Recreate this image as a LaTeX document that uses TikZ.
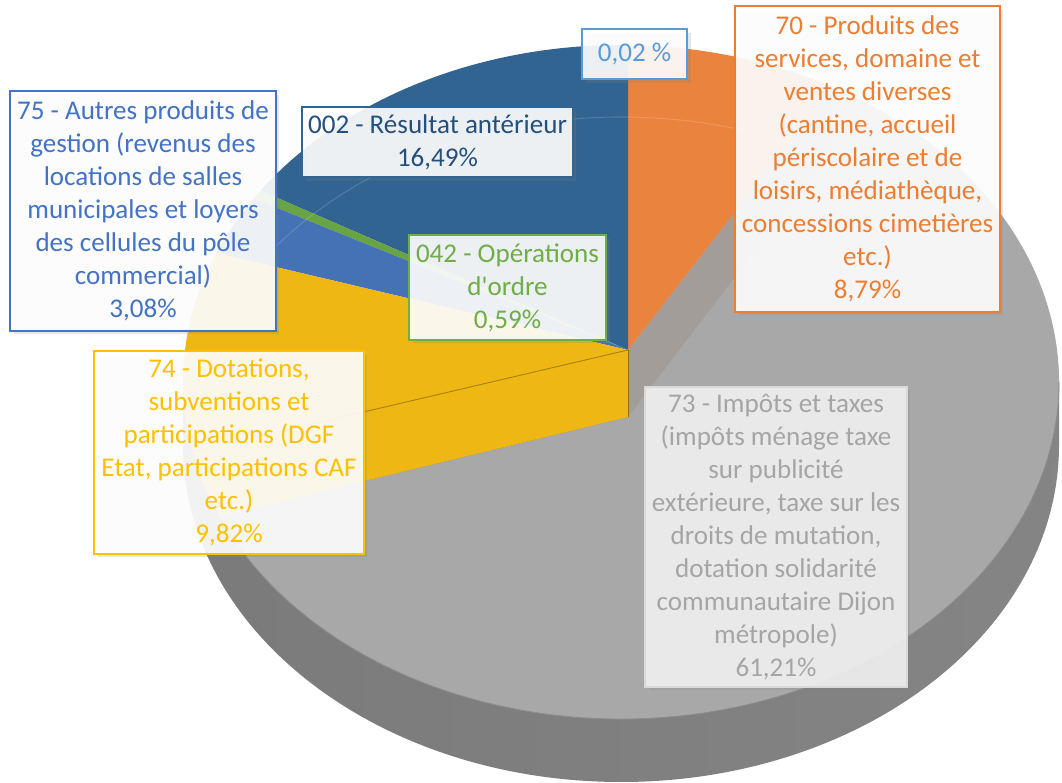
\documentclass[tikz,border=0pt]{standalone}
\usepackage{fontspec}
\setmainfont{Carlito}
\usepackage{tikz}
\usetikzlibrary{shadows}
\definecolor{cDark}{RGB}{50,100,146}
\definecolor{cDarkTxt}{RGB}{37,80,124}
\definecolor{cOrange}{RGB}{234,131,62}
\definecolor{cOrangeTxt}{RGB}{237,125,49}
\definecolor{cGray}{RGB}{168,168,168}
\definecolor{cGrayTxt}{RGB}{165,165,165}
\definecolor{cYellow}{RGB}{238,183,20}
\definecolor{cYellowTxt}{RGB}{255,192,0}
\definecolor{cBlue}{RGB}{68,114,180}
\definecolor{cBlueTxt}{RGB}{68,114,196}
\definecolor{cGreen}{RGB}{104,163,68}
\definecolor{cGreenTxt}{RGB}{112,173,71}
\definecolor{cLight}{RGB}{91,155,213}
\definecolor{cCut}{RGB}{162,157,152}

\begin{document}
\begin{tikzpicture}[x=0.02cm,y=0.02cm,
  lbl/.style={draw, line width=1.4pt, fill=white, fill opacity=0.9, text opacity=1,
    align=center, inner sep=0pt, font=\fontsize{15.4}{18.8}\selectfont,
    drop shadow={opacity=0.2,shadow xshift=2pt,shadow yshift=-2pt}},
  rim/.style={x radius=438, y radius=337}]
  \useasboundingbox (0,0) rectangle (1062,-783);
  \pgfmathsetmacro{\h}{63}
  \coordinate (apex) at (628,-350);
  \coordinate (apexlow) at (628,-417);
  \coordinate (ctop) at (621,-382);
  \foreach \nm/\t in {rimA/89.08,rimB/61.2,rimC/203.5,rimD/157.5,rimE/147,rimF/145.4,rimG/192}
    \path (ctop) ++(\t:438 and 337) coordinate (\nm);

  % side wall
  \shade[left color=black!52, middle color=black!33, right color=black!48]
    (ctop) ++(180:438 and 337) -- ++(0,-\h) arc[start angle=180, end angle=360, rim] -- ++(0,\h) -- cycle;

  % top faces
  \fill[cGray] (apex) -- (rimB) arc[start angle=61.2, end angle=-156.5, rim] -- (apexlow) -- cycle;
  \draw[black!45, line width=0.5pt] (rimC) arc[start angle=203.5, end angle=360, rim];
  \fill[cCut] (apex) -- (rimB) -- ++(0,-\h) -- (apexlow) -- cycle;
  \fill[cOrange] (apex) -- (rimB) arc[start angle=61.2, end angle=89.08, rim] -- cycle;
  \fill[cDark] (apex) -- (rimA) arc[start angle=89.08, end angle=145.4, rim] -- cycle;
  \fill[cGreen] (apex) -- (rimF) arc[start angle=145.4, end angle=147, rim] -- cycle;
  \fill[cBlue] (apex) -- (rimE) arc[start angle=147, end angle=157.5, rim] -- cycle;
  \fill[cYellow] (apex) -- (rimD) arc[start angle=157.5, end angle=203.5, rim] -- (apexlow) -- cycle;
  \draw[cYellow!70!black, line width=0.5pt] (apex) -- (rimG);
  \draw[cYellow!60!black, line width=0.5pt] (apex) -- (apexlow);
  \draw[white, opacity=0.15, line width=0.6pt] (621,-454) ++(143:438 and 337) arc[start angle=143, end angle=62, rim];

  % labels
  \node[lbl, draw=cLight, text=cLight, minimum width=2.1cm, minimum height=1cm] (labsmall) at (634.5,-54) {0,02 \%};
  \node[lbl, draw=cOrangeTxt, text=cOrangeTxt, minimum width=5.3cm, minimum height=6.12cm] (lab70) at (867.5,-159)
    {70 - Produits des\\services, domaine et\\ventes diverses\\(cantine, accueil\\périscolaire et de\\loisirs, médiathèque,\\concessions cimetières\\etc.)\\8,79\%};
  \node[lbl, draw=cDark, text=cDarkTxt, minimum width=5.42cm, minimum height=1.4cm] (lab002) at (437.5,-142)
    {002 - Résultat antérieur\\16,49\%};
  \node[lbl, draw=cBlueTxt, text=cBlueTxt, minimum width=5.32cm, minimum height=4.8cm] (lab75) at (143,-211)
    {75 - Autres produits de\\gestion (revenus des\\locations de salles\\municipales et loyers\\des cellules du pôle\\commercial)\\3,08\%};
  \node[lbl, draw=cGreenTxt, text=cGreenTxt, minimum width=3.94cm, minimum height=2.1cm] (lab042) at (507.5,-287.5)
    {042 - Opérations\\d\textquotesingle ordre\\0,59\%};
  \node[lbl, draw=cYellowTxt, text=cYellowTxt, minimum width=5.4cm, minimum height=4.06cm] (lab74) at (229,-452.5)
    {74 - Dotations,\\subventions et\\participations (DGF\\Etat, participations CAF\\etc.)\\9,82\%};
  \node[lbl, draw=black!15, fill=black!5, text=cGrayTxt, minimum width=5.24cm, minimum height=6cm] (lab73) at (776,-537)
    {73 - Impôts et taxes\\(impôts ménage taxe\\sur publicité\\extérieure, taxe sur les\\droits de mutation,\\dotation solidarité\\communautaire Dijon\\métropole)\\61,21\%};
\end{tikzpicture}
\end{document}
